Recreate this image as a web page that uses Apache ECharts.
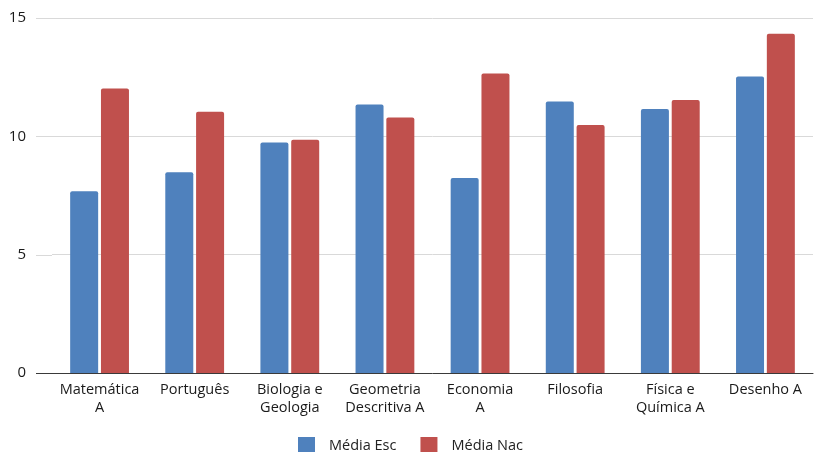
<!DOCTYPE html>
<html>
<head>
<meta charset="utf-8">
<script src="https://cdn.jsdelivr.net/npm/echarts@6/dist/echarts.min.js"></script>
<style>
  html, body { margin: 0; padding: 0; background: #fff; }
  #chart { width: 817px; height: 452px; }
</style>
</head>
<body>
<div id="chart"></div>
<script>
// Disciplinas e médias (escola vs. nacional)
const categories = [
  'Matemática\nA', 'Português', 'Biologia e\nGeologia', 'Geometria\nDescritiva A',
  'Economia\nA', 'Filosofia', 'Física e\nQuímica A', 'Desenho A'
];
const mediaEsc = [7.68, 8.48, 9.74, 11.35, 8.24, 11.47, 11.16, 12.53];
const mediaNac = [12.02, 11.04, 9.86, 10.80, 12.65, 10.48, 11.54, 14.33];
const yTicks = [0, 5, 10, 15];

const FONT = 'Open Sans';
const chart = echarts.init(document.getElementById('chart'));

chart.setOption({
  animation: false,
  textStyle: { fontFamily: FONT },
  grid: { left: 52, right: 4, top: 18, bottom: 79, containLabel: false },
  legend: {
    top: 437,
    left: 298,
    padding: 0,
    itemWidth: 17,
    itemHeight: 17,
    itemGap: 24,
    icon: 'rect',
    formatter: name => '{s|}' + name,
    textStyle: {
      fontFamily: FONT, fontSize: 14.5, color: '#222',
      rich: { s: { width: 9 } }
    },
    data: ['Média Esc', 'Média Nac']
  },
  xAxis: {
    type: 'category',
    data: categories,
    axisTick: { show: false },
    axisLine: { lineStyle: { color: '#3a3a3a', width: 1 } },
    axisLabel: {
      interval: 0,
      margin: 8,
      fontFamily: FONT,
      fontSize: 14.5,
      lineHeight: 18,
      color: '#1a1a1a'
    }
  },
  yAxis: {
    type: 'value',
    min: yTicks[0],
    max: yTicks[yTicks.length - 1],
    interval: 5,
    axisLine: { show: false },
    axisTick: { show: false },
    axisLabel: { margin: 26, fontFamily: FONT, fontSize: 15, color: '#1a1a1a' },
    splitLine: { lineStyle: { color: '#d9d9d9', width: 1 } }
  },
  series: [
    {
      name: 'Média Esc',
      type: 'bar',
      data: mediaEsc,
      barWidth: 28,
      barGap: '10%',
      itemStyle: { color: '#4F81BD', borderRadius: [2, 2, 0, 0] }
    },
    {
      name: 'Média Nac',
      type: 'bar',
      data: mediaNac,
      barWidth: 28,
      itemStyle: { color: '#C0504D', borderRadius: [2, 2, 0, 0] }
    }
  ]
});

// Short extensions of the gridlines and baseline to the left of the plot
const gridLeft = 52, extLeft = 36;
const ext = yTicks.map(v => {
  const y = Math.round(chart.convertToPixel({ yAxisIndex: 0 }, v)) + 0.5;
  return {
    type: 'line',
    shape: { x1: extLeft, y1: y, x2: gridLeft, y2: y },
    style: { stroke: v === 0 ? '#3a3a3a' : '#d9d9d9', lineWidth: 1 },
    silent: true
  };
});
chart.setOption({ graphic: ext });
</script>
</body>
</html>
